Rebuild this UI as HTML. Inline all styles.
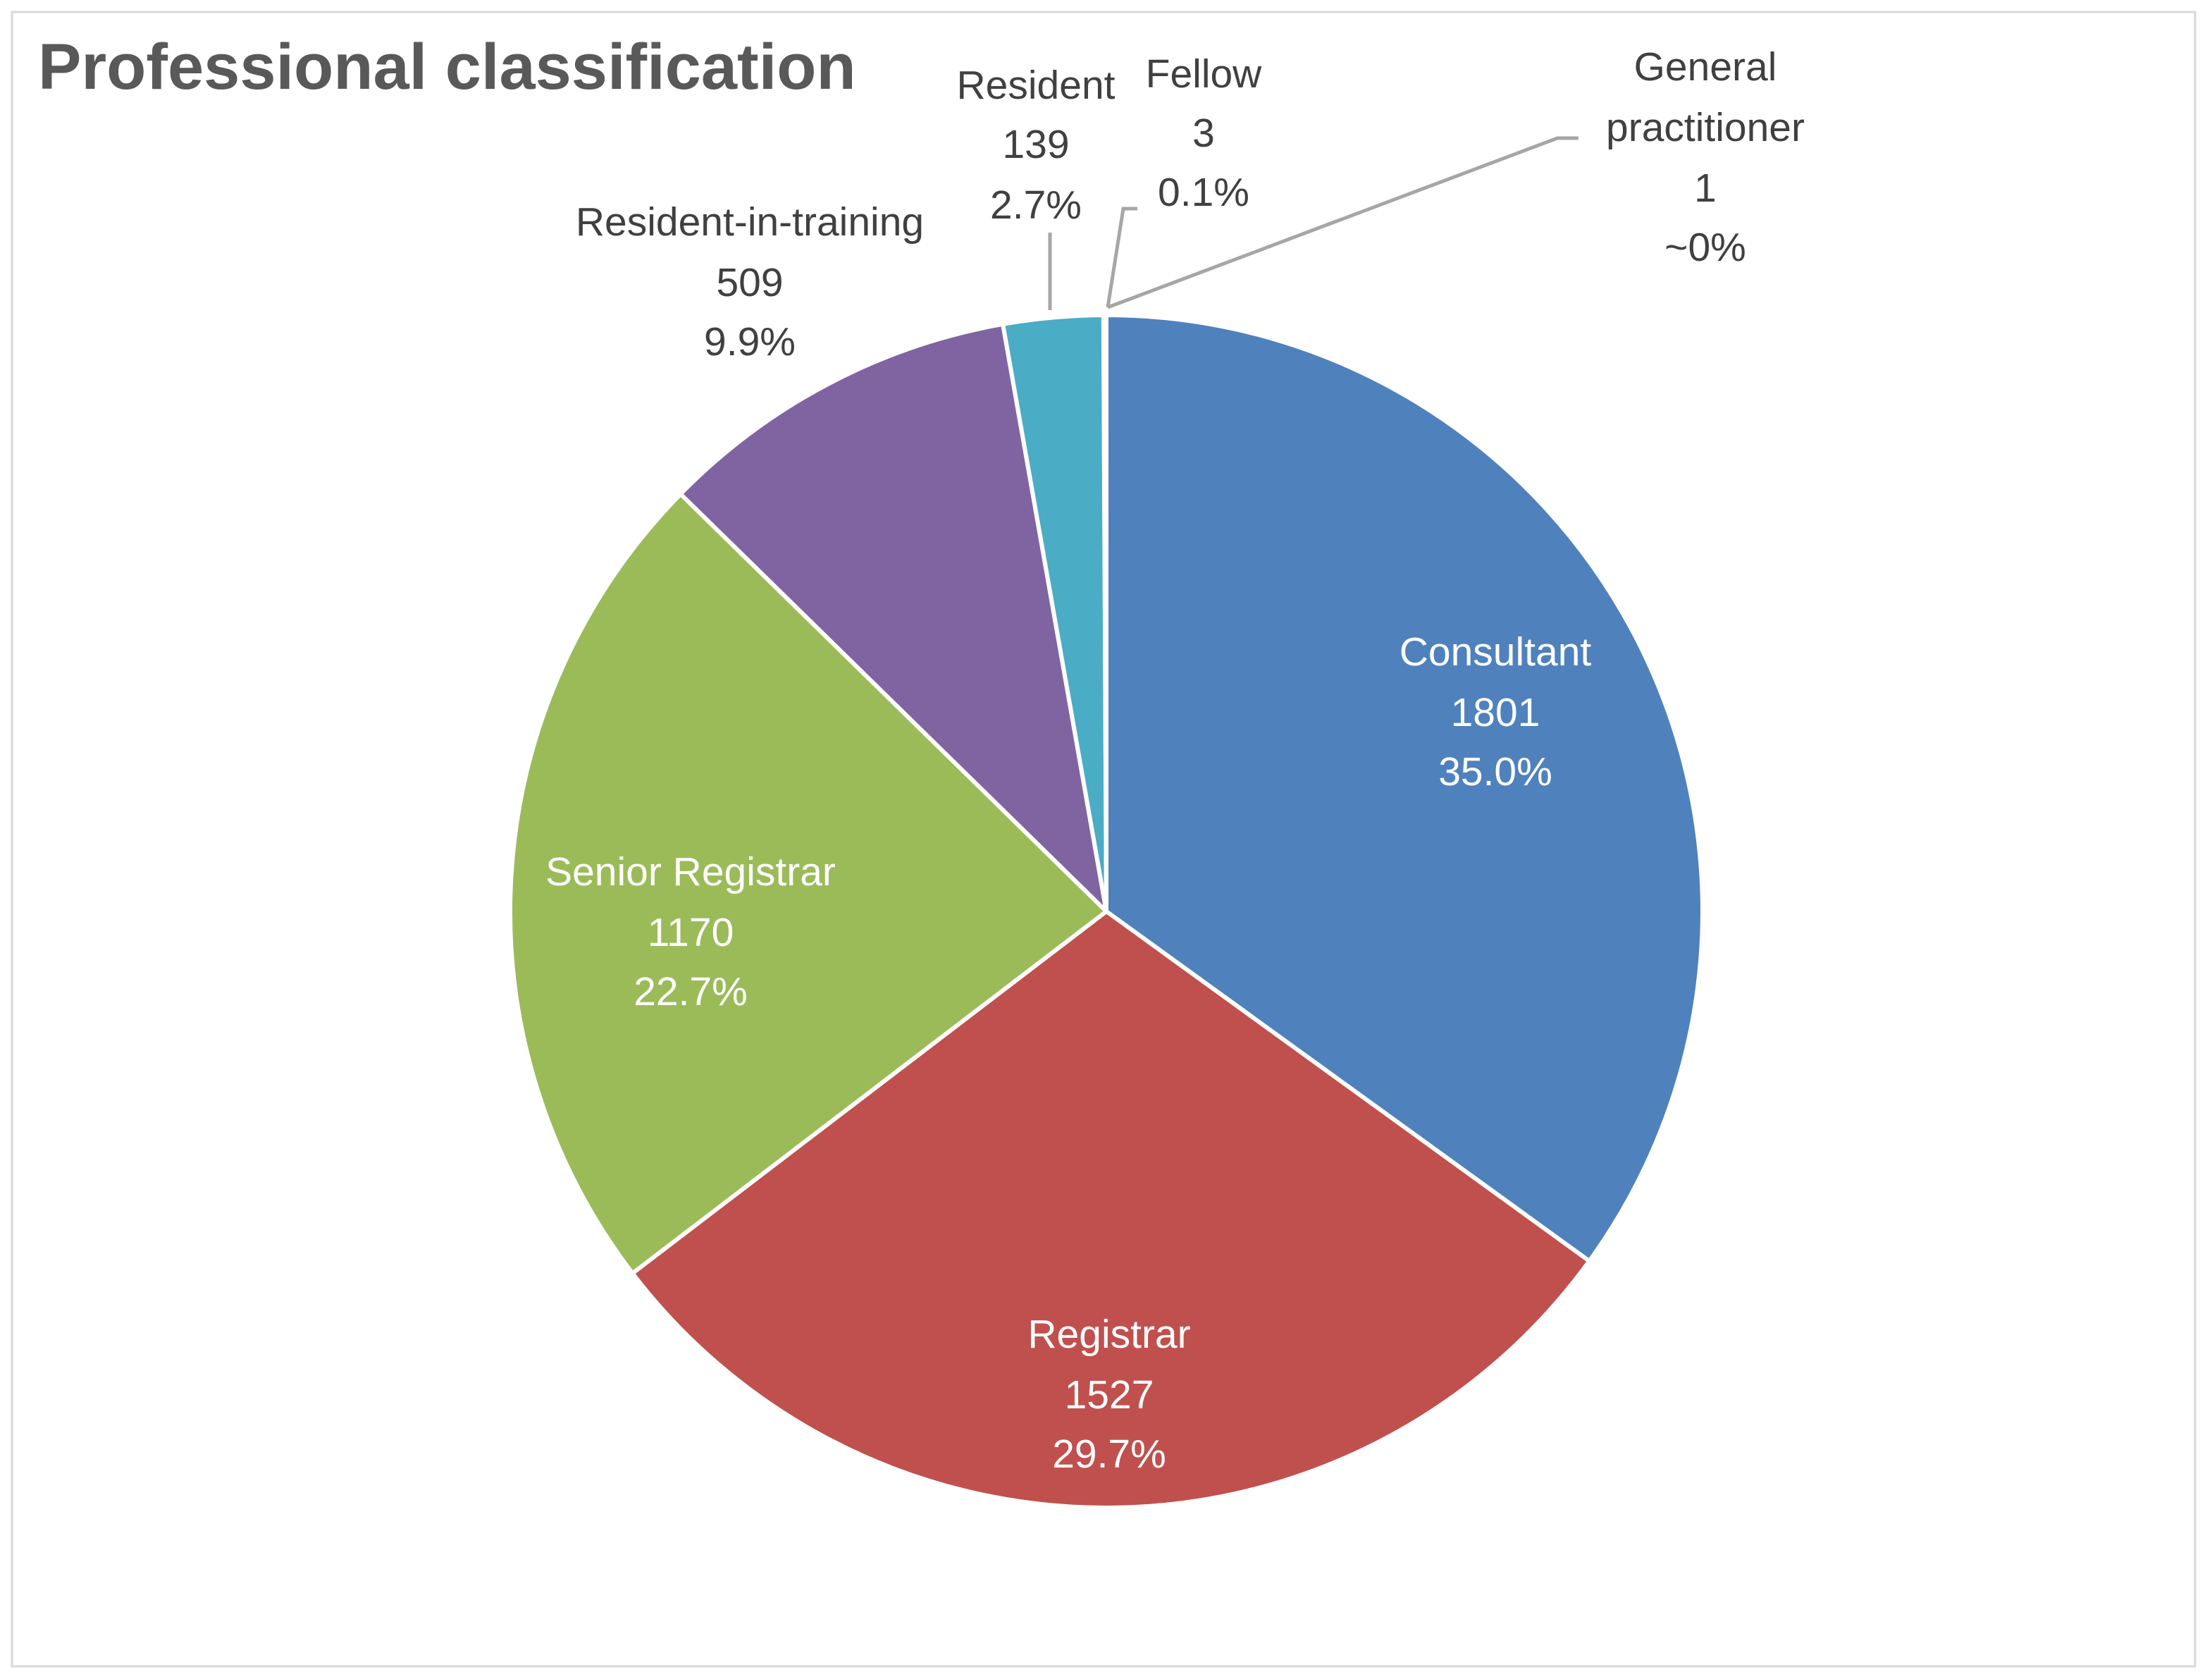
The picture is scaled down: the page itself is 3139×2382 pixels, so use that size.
<!DOCTYPE html>
<html><head><meta charset="utf-8"><style>
html,body{margin:0;padding:0;background:#fff}
svg{display:block}
text{font-family:"Liberation Sans",sans-serif}
</style></head><body>
<svg id="chart" width="3139" height="2382" viewBox="0 0 3139 2382">
<rect x="17" y="17" width="3098" height="2347" fill="#fff" stroke="#d9d9d9" stroke-width="3"/>
<text x="54" y="126" font-size="92" font-weight="bold" fill="#595959">Professional classification</text>
<g id="slices"></g>
<g fill="none" stroke="#a6a6a6" stroke-width="5">
<polyline points="1490,440 1490,330"/>
<polyline points="1572,436 1594,296 1614,296"/>
<polyline points="1572,436 2210,196 2240,196"/>
</g>
<g font-size="57" text-anchor="middle">
<g fill="#fff"><text x="2122" y="944">Consultant</text><text x="2122" y="1030">1801</text><text x="2122" y="1114">35.0%</text></g>
<g fill="#fff"><text x="1574" y="1912">Registrar</text><text x="1574" y="1998">1527</text><text x="1574" y="2082">29.7%</text></g>
<g fill="#fff"><text x="980" y="1256">Senior Registrar</text><text x="980" y="1342">1170</text><text x="980" y="1426">22.7%</text></g>
<g fill="#404040"><text x="1064" y="334">Resident-in-training</text><text x="1064" y="420">509</text><text x="1064" y="504">9.9%</text></g>
<g fill="#404040"><text x="1470" y="140">Resident</text><text x="1470" y="224">139</text><text x="1470" y="310">2.7%</text></g>
<g fill="#404040"><text x="1708" y="124">Fellow</text><text x="1708" y="208">3</text><text x="1708" y="292">0.1%</text></g>
<g fill="#404040"><text x="2420" y="114">General</text><text x="2420" y="200">practitioner</text><text x="2420" y="286">1</text><text x="2420" y="370">~0%</text></g>
</g>
</svg>
<script>
const categories = ["Consultant","Registrar","Senior Registrar","Resident-in-training","Resident","Fellow","General practitioner"];
const values = [1801,1527,1170,509,139,3,1];
const colors = ["#4f81bd","#c0504d","#9bbb59","#8064a2","#4bacc6","#f79646","#2c4d75"];
const cx = 1570, cy = 1293, r = 846;
const total = values.reduce((a,b)=>a+b,0);
const g = document.getElementById('slices');
let a0 = 0;
function pt(a){ return [cx + r*Math.sin(a), cy - r*Math.cos(a)]; }
values.forEach((v,i)=>{
  const a1 = a0 + v/total*2*Math.PI;
  const p0 = pt(a0), p1 = pt(a1);
  const large = (a1-a0) > Math.PI ? 1 : 0;
  const path = document.createElementNS('http://www.w3.org/2000/svg','path');
  path.setAttribute('d', `M${cx},${cy} L${p0[0]},${p0[1]} A${r},${r} 0 ${large} 1 ${p1[0]},${p1[1]} Z`);
  path.setAttribute('fill', colors[i]);
  path.setAttribute('stroke', '#fff');
  path.setAttribute('stroke-width', '6');
  path.setAttribute('stroke-linejoin', 'round');
  
  
  g.appendChild(path);
  a0 = a1;
});
</script>
</body></html>
